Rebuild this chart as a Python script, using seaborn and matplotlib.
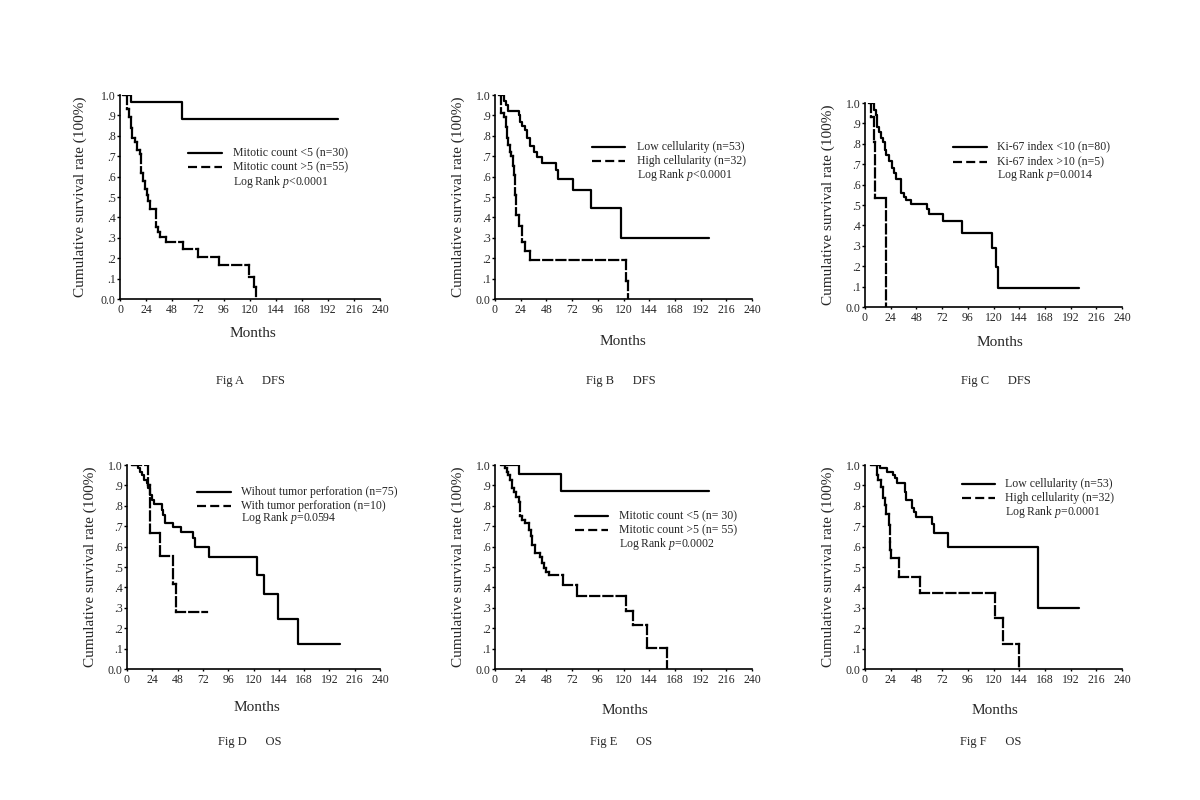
import numpy as np
import pandas as pd
import matplotlib
matplotlib.use("Agg")
import matplotlib.pyplot as plt
import seaborn as sns


# ── Data: Kaplan-Meier steps ─────────────────────────────────────────────────
# t = month at which the survival value s starts (last point = end of follow-up)
month_ticks = list(range(0, 241, 24))
surv_ticks = [0.0, 0.1, 0.2, 0.3, 0.4, 0.5, 0.6, 0.7, 0.8, 0.9, 1.0]
surv_tick_labels = ["0.0", ".1", ".2", ".3", ".4", ".5", ".6", ".7", ".8", ".9", "1.0"]

# Fig A  DFS, mitotic count
a_low_t = [3, 10, 57, 201]
a_low_s = [1.0, 0.964, 0.884, 0.884]
a_high_t = [3, 6, 8.5, 10, 11.5, 14, 16, 18, 19, 21, 23, 24.5, 26, 27.5, 33, 35, 37, 42,
            58.5, 72, 91, 119.5, 124, 125.5]
a_high_s = [1.0, 0.93, 0.89, 0.84, 0.79, 0.77, 0.73, 0.71, 0.62, 0.58, 0.54, 0.51, 0.48, 0.44,
            0.355, 0.33, 0.305, 0.28, 0.245, 0.207, 0.167, 0.11, 0.06, 0.0]

# Fig B  DFS, cellularity
b_low_t = [4, 8, 10, 12, 22, 23.5, 25.5, 28, 30, 33, 36, 39, 43.5, 57, 59, 72.5, 90, 118, 200]
b_low_s = [1.0, 0.97, 0.95, 0.92, 0.90, 0.87, 0.85, 0.83, 0.79, 0.75, 0.72, 0.695, 0.667,
           0.63, 0.59, 0.535, 0.445, 0.30, 0.30]
b_high_t = [4, 5.5, 8, 10, 11, 12.5, 14, 15, 16.5, 17.5, 19, 20, 22, 25, 28, 32.5, 122, 124]
b_high_s = [1.0, 0.91, 0.89, 0.845, 0.79, 0.755, 0.72, 0.70, 0.65, 0.61, 0.51, 0.41, 0.36,
            0.28, 0.235, 0.19, 0.09, 0.0]

# Fig C  DFS, Ki-67 index
c_low_t = [4, 8, 10, 11, 13, 15, 17, 19, 20, 22.5, 25, 27, 29, 33.5, 36, 38.5, 42.5, 57.5,
           60, 73, 90.5, 118.5, 122.5, 124.5, 200]
c_low_s = [1.0, 0.967, 0.943, 0.88, 0.86, 0.83, 0.81, 0.77, 0.747, 0.714, 0.68, 0.657, 0.627,
           0.56, 0.54, 0.526, 0.503, 0.48, 0.455, 0.42, 0.365, 0.29, 0.195, 0.095, 0.095]
c_high_t = [4, 6, 8, 9.5, 19.5]
c_high_s = [1.0, 0.93, 0.81, 0.534, 0.0]

# Fig D  OS, tumor perforation
d_wo_t = [4.5, 10, 12.5, 14, 16, 18.5, 19.5, 22, 23.5, 25.5, 33, 34.5, 36.5, 44, 51, 62.5,
          64.5, 77.5, 123, 129.5, 143.5, 162.5, 202]
d_wo_s = [1.0, 0.984, 0.967, 0.95, 0.926, 0.91, 0.886, 0.853, 0.83, 0.81, 0.78, 0.755, 0.714,
          0.698, 0.67, 0.64, 0.60, 0.55, 0.46, 0.37, 0.245, 0.122, 0.122]
d_w_t = [4.5, 19.5, 21.5, 31.5, 43.5, 46.5, 76]
d_w_s = [1.0, 0.9, 0.667, 0.556, 0.417, 0.278, 0.278]

# Fig E  OS, mitotic count
e_low_t = [6, 22.5, 62, 200]
e_low_s = [1.0, 0.955, 0.873, 0.873]
e_high_t = [6, 9.5, 11, 12.5, 14, 15.5, 17.5, 19.5, 22, 23, 25, 28, 32, 33.5, 35, 37.5, 42,
            43.5, 45.5, 48, 50, 63.5, 77, 122, 128.5, 142, 161]
e_high_s = [1.0, 0.984, 0.967, 0.95, 0.926, 0.886, 0.87, 0.845, 0.82, 0.75, 0.73, 0.714, 0.68,
            0.65, 0.61, 0.567, 0.55, 0.52, 0.493, 0.477, 0.46, 0.41, 0.357, 0.285, 0.215,
            0.105, 0.0]

# Fig F  OS, cellularity
f_low_t = [6, 14, 21, 26, 28, 30, 37, 38, 43.5, 46, 47.5, 62.5, 64.5, 77.5, 161.5, 199.5]
f_low_s = [1.0, 0.984, 0.967, 0.95, 0.935, 0.91, 0.87, 0.83, 0.79, 0.77, 0.747, 0.71, 0.667,
           0.60, 0.30, 0.30]
f_high_t = [6, 11, 12.5, 14.5, 16.5, 18.5, 20, 22, 23, 23.5, 24.5, 32, 51.5, 121.5, 128.5, 143.5]
f_high_s = [1.0, 0.95, 0.926, 0.894, 0.837, 0.804, 0.76, 0.706, 0.625, 0.583, 0.543, 0.45,
            0.375, 0.25, 0.125, 0.0]

captions = ["Fig A      DFS", "Fig B      DFS", "Fig C      DFS",
            "Fig D      OS", "Fig E      OS", "Fig F      OS"]
solid_labels = ["Mitotic count <5 (n=30)", "Low cellularity (n=53)", "Ki-67 index <10 (n=80)",
                "Wihout tumor perforation (n=75)", "Mitotic count <5 (n= 30)",
                "Low cellularity (n=53)"]
dashed_labels = ["Mitotic count >5 (n=55)", "High cellularity (n=32)", "Ki-67 index >10 (n=5)",
                 "With tumor perforation (n=10)", "Mitotic count >5 (n= 55)",
                 "High cellularity (n=32)"]
log_rank = ["Log Rank $p$<0.0001", "Log Rank $p$<0.0001", "Log Rank $p$=0.0014",
            "Log Rank $p$=0.0594", "Log Rank $p$=0.0002", "Log Rank $p$=0.0001"]

curves = [
    ((a_low_t, a_low_s), (a_high_t, a_high_s)),
    ((b_low_t, b_low_s), (b_high_t, b_high_s)),
    ((c_low_t, c_low_s), (c_high_t, c_high_s)),
    ((d_wo_t, d_wo_s), (d_w_t, d_w_s)),
    ((e_low_t, e_low_s), (e_high_t, e_high_s)),
    ((f_low_t, f_low_s), (f_high_t, f_high_s)),
]


# ── Layout (pixel boxes from the reference, 1200x800) ────────────────────────
W, H = 1200, 800
axes_px = [(120, 380, 95, 299), (495, 752, 95, 299), (865, 1122, 103, 307),
           (127, 380, 465, 669), (495, 752, 465, 669), (865, 1122, 465, 669)]
# legend: line start, line end, text x (axes fraction), three row heights
legend_pos = [(0.262, 0.392, 0.435, (0.716, 0.647, 0.574)),
              (0.376, 0.506, 0.551, (0.747, 0.676, 0.608)),
              (0.344, 0.474, 0.512, (0.786, 0.712, 0.647)),
              (0.275, 0.410, 0.449, (0.869, 0.797, 0.738)),
              (0.311, 0.441, 0.484, (0.750, 0.681, 0.611)),
              (0.376, 0.506, 0.545, (0.905, 0.837, 0.771))]
months_pos = [(0.512, -0.167), (0.498, -0.210), (0.525, -0.176),
              (0.514, -0.191), (0.506, -0.201), (0.506, -0.201)]
ylabel_x = [-0.154, -0.144, -0.144, -0.146, -0.144, -0.144]
caption_px = [(250, 381), (621, 381), (996, 381), (250, 742), (621, 742), (991, 742)]


# ── Style ────────────────────────────────────────────────────────────────────
sns.set_theme(style="ticks")
plt.rcParams["font.family"] = ["Liberation Serif", "DejaVu Serif"]
plt.rcParams["mathtext.fontset"] = "custom"
plt.rcParams["mathtext.rm"] = "Liberation Serif"
plt.rcParams["mathtext.it"] = "Liberation Serif:italic"
plt.rcParams["lines.scale_dashes"] = False

LW = 1.6
DASH = (0, (6.5, 3))
TICK_FS = 8.5
LABEL_FS = 11


def km_segments(t, s, split):
    # when split, every horizontal run and every drop is its own unit,
    # so short pieces restart the dash pattern (SPSS look)
    rows = []
    for i in range(len(t) - 1):
        h = 2 * i if split else 0
        v = 2 * i + 1 if split else 0
        rows.append((h, t[i], s[i]))
        rows.append((h, t[i + 1], s[i]))
        if split:
            rows.append((v, t[i + 1], s[i]))
        rows.append((v, t[i + 1], s[i + 1]))
    return pd.DataFrame(rows, columns=["seg", "months", "surv"])


fig = plt.figure(figsize=(W / 100, H / 100), dpi=100)

for k in range(6):
    x0, x1, y0, y1 = axes_px[k]
    ax = fig.add_axes([x0 / W, 1 - y1 / H, (x1 - x0) / W, (y1 - y0) / H])

    (lt, ls), (ht, hs) = curves[k]
    sns.lineplot(data=km_segments(lt, ls, False), x="months", y="surv", units="seg",
                 estimator=None, sort=False, color="black", linewidth=LW, ax=ax)
    sns.lineplot(data=km_segments(ht, hs, True), x="months", y="surv", units="seg",
                 estimator=None, sort=False, color="black", linewidth=LW,
                 linestyle=DASH, dash_capstyle="projecting", ax=ax)

    ax.set_xlim(0, 240)
    ax.set_ylim(0, 1.0)
    ax.set_xticks(month_ticks)
    ax.set_xticklabels([str(m) for m in month_ticks], fontsize=TICK_FS)
    ax.set_yticks(surv_ticks)
    ax.set_yticklabels(surv_tick_labels, fontsize=TICK_FS)
    ax.tick_params(axis="y", length=2.5, width=1, pad=0.5, color="black")
    ax.tick_params(axis="x", length=1.5, width=1, pad=2, color="black")
    ax.set_xlabel("")
    ax.set_ylabel("")
    sns.despine(ax=ax)
    for side in ["left", "bottom"]:
        ax.spines[side].set_color("black")
        ax.spines[side].set_linewidth(1.2)
    ax.patch.set_alpha(0)

    mx, my = months_pos[k]
    ax.text(mx, my, "Months", transform=ax.transAxes, ha="center", va="center",
            fontsize=LABEL_FS)
    ax.text(ylabel_x[k], 0.5, "Cumulative survival rate (100%)", transform=ax.transAxes,
            ha="center", va="center", rotation=90, fontsize=LABEL_FS)

    # hand-made legend as in the original
    lx0, lx1, tx, rows = legend_pos[k]
    ax.plot([lx0, lx1], [rows[0], rows[0]], transform=ax.transAxes, color="black",
            linewidth=LW, clip_on=False)
    ax.plot([lx0, lx1], [rows[1], rows[1]], transform=ax.transAxes, color="black",
            linewidth=LW, linestyle=DASH, clip_on=False)
    for txt, yy in zip([solid_labels[k], dashed_labels[k], log_rank[k]], rows):
        ax.text(tx, yy, txt, transform=ax.transAxes, ha="left", va="center",
                fontsize=TICK_FS)

    cx, cy = caption_px[k]
    fig.text(cx / W, 1 - cy / H, captions[k], ha="center", va="center", fontsize=9)

fig.savefig("out.png", dpi=100, facecolor="white")
